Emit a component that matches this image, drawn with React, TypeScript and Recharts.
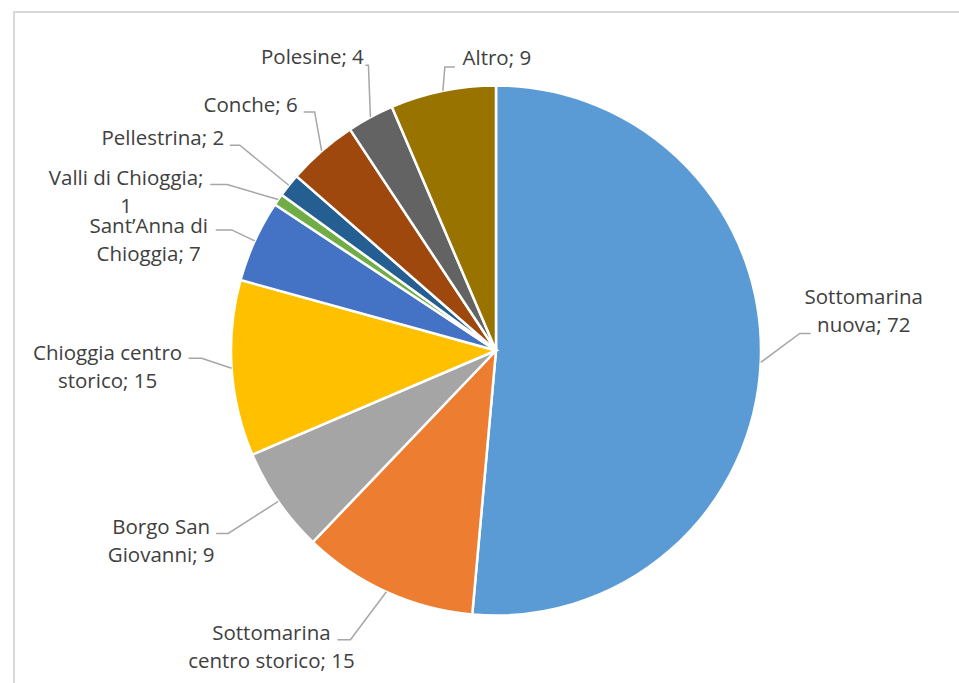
import { PieChart, Pie, Cell } from "recharts";

const zones = [
  "Sottomarina nuova",
  "Sottomarina centro storico",
  "Borgo San Giovanni",
  "Chioggia centro storico",
  "Sant’Anna di Chioggia",
  "Valli di Chioggia",
  "Pellestrina",
  "Conche",
  "Polesine",
  "Altro",
];

const counts = [72, 15, 9, 15, 7, 1, 2, 6, 4, 9];

// wrapped label text, as Excel shows it
const labelLines = [
  ["Sottomarina", "nuova; 72"],
  ["Sottomarina", "centro storico; 15"],
  ["Borgo San", "Giovanni; 9"],
  ["Chioggia centro", "storico; 15"],
  ["Sant’Anna di", "Chioggia; 7"],
  ["Valli di Chioggia;", "1"],
  ["Pellestrina; 2"],
  ["Conche; 6"],
  ["Polesine; 4"],
  ["Altro; 9"],
];

const colors = [
  "#5B9BD5",
  "#ED7D31",
  "#A5A5A5",
  "#FFC000",
  "#4472C4",
  "#70AD47",
  "#255E91",
  "#9E480E",
  "#636363",
  "#997300",
];

// leader elbow (ex, ey), horizontal tail (hx), text centre/baseline (tx, ty), relative to slice edge
const labelLayout = [
  { ex: 39, ey: -29, hx: 11, tx: 103, ty: -58 },
  { ex: -36, ey: 48, hx: -13, tx: -115, ty: 48 },
  { ex: -50, ey: 32, hx: -12, tx: -117, ty: 33 },
  { ex: -30, ey: -10, hx: -13, tx: -124, ty: -8 },
  { ex: -23, ey: -11, hx: -16, tx: -106, ty: -8 },
  { ex: -51, ey: -15, hx: -17, tx: -152, ty: -15 },
  { ex: -49, ey: -40, hx: -10, tx: -126, ty: -40 },
  { ex: -7, ey: -39, hx: -11, tx: -71, ty: -39 },
  { ex: -2, ey: -52, hx: -3, tx: -58, ty: -53 },
  { ex: 2, ey: -24, hx: 10, tx: 54, ty: -26 },
];

const data = zones.map((name, i) => ({ name, value: counts[i] }));

const RAD = Math.PI / 180;

const renderLabel = (props: any) => {
  const { cx, cy, midAngle, outerRadius, index } = props;
  const x0 = cx + outerRadius * Math.cos(-midAngle * RAD);
  const y0 = cy + outerRadius * Math.sin(-midAngle * RAD);
  const l = labelLayout[index];
  const bx = x0 + l.ex;
  const by = y0 + l.ey;
  return (
    <g key={"lbl" + index}>
      <polyline
        points={`${x0},${y0} ${bx},${by} ${bx + l.hx},${by}`}
        fill="none"
        stroke="#A6A6A6"
        strokeWidth={1.5}
      />
      <text
        x={x0 + l.tx}
        y={y0 + l.ty}
        textAnchor="middle"
        fill="#404040"
        fontSize={20.5}
        fontFamily="'Open Sans', sans-serif"
      >
        {labelLines[index].map((s, j) => (
          <tspan key={j} x={x0 + l.tx} dy={j === 0 ? 0 : 28}>
            {s}
          </tspan>
        ))}
      </text>
    </g>
  );
};

export default function App() {
  return (
    <div
      style={{
        position: "absolute",
        left: 0,
        top: 0,
        width: 959,
        height: 683,
        overflow: "hidden",
        background: "#fff",
      }}
    >
      <div
        style={{
          position: "absolute",
          left: 13,
          top: 11,
          width: 1000,
          height: 700,
          border: "2px solid #D9D9D9",
        }}
      />
      <div style={{ position: "absolute", left: 0, top: 0 }}>
        <PieChart
          width={959}
          height={683}
          margin={{ top: 0, right: 0, bottom: 0, left: 0 }}
        >
          <Pie
            data={data}
            dataKey="value"
            nameKey="name"
            cx={496}
            cy={350.5}
            outerRadius={265}
            startAngle={90}
            endAngle={-270}
            stroke="#fff"
            strokeWidth={2.5}
            label={renderLabel}
            labelLine={false}
            isAnimationActive={false}
          >
            {data.map((d, i) => (
              <Cell key={d.name} fill={colors[i]} />
            ))}
          </Pie>
        </PieChart>
      </div>
    </div>
  );
}
